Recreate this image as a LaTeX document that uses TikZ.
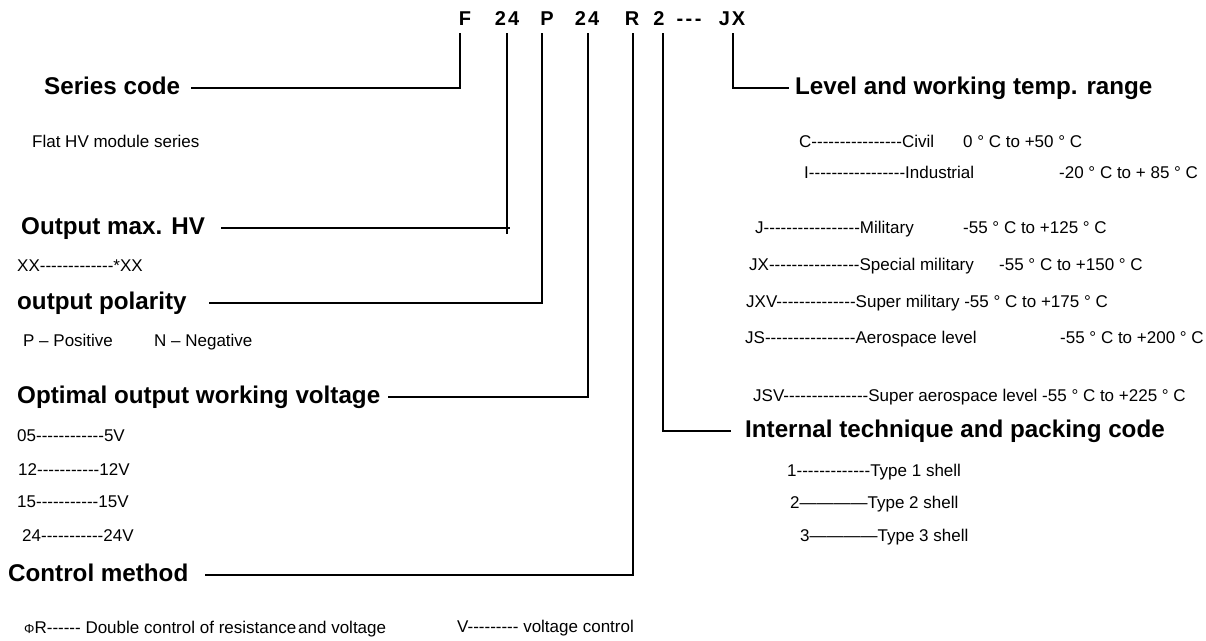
\documentclass[tikz,border=0pt]{standalone}
\usepackage{fontspec}
\newfontfamily\ars{Liberation Sans}
\tikzset{
  codetxt/.style={font=\ars\bfseries\fontsize{20}{24}\selectfont, inner sep=0pt, anchor=base},
  head/.style={font=\ars\bfseries\fontsize{24.2}{28}\selectfont, inner sep=0pt, anchor=west, text height=17pt, text depth=5pt},
  small/.style={font=\ars\fontsize{17}{20}\selectfont, inner sep=0pt, anchor=base west},
  conn/.style={line width=1.4pt, line cap=butt},
}
\begin{document}
\begin{tikzpicture}[x=1pt, y=-1pt]
\fill[white] (0,0) rectangle (1206,640);
\useasboundingbox (0,0) rectangle (1206,640);

% code line
\node[codetxt] (cF)   at (465,25) {F};
\node[codetxt] (c24a) at (507,25) {2\kern2pt4};
\node[codetxt] (cP)   at (547,25) {P};
\node[codetxt] (c24b) at (587,25) {2\kern2pt4};
\node[codetxt] (cR)   at (632,25) {R};
\node[codetxt] (c2)   at (659,25) {2};
\node[codetxt] (cd)   at (689,25) {-\kern2.5pt-\kern2.5pt-};
\node[codetxt] (cJX)  at (732,25) {J\kern2pt X};

% left headings
\node[head] (series)  at (44,88)  {Series code};
\node[head] (outmax)  at (21,228) {Output max. HV};
\node[head] (polar)   at (17,303) {output polarity};
\node[head] (optimal) at (17,397) {Optimal output working voltage};
\node[head] (control) at (8,575)  {Control method};

% right headings
\node[head] (level)    at (795,88)  {Level and working temp. range};
\node[head] (internal) at (745,431) {Internal technique and packing code};

% left small text
\node[small] (flat) at (32,147) {Flat HV module series};
\node[small] (xx)   at (17,271) {XX-------------*XX};
\node[small] (pos)  at (23,346) {P – Positive};
\node[small] (neg)  at (154,346) {N – Negative};
\node[small] (v05)  at (17,441) {05------------5V};
\node[small] (v12)  at (18,475) {12-----------12V};
\node[small] (v15)  at (17,507) {15-----------15V};
\node[small] (v24)  at (22,541) {24-----------24V};
\node[small] (phir) at (24,633) {{\fontsize{13}{15}\selectfont Φ}R------ Double control of resistance\hspace{2pt}and voltage};
\node[small] (vctl) at (457,632) {V--------- voltage control};

% right small text
\node[small] (civ)   at (799,147)  {C----------------Civil};
\node[small] (civt)  at (963,147)  {0 ° C to +50 ° C};
\node[small] (ind)   at (804,178)  {I-----------------Industrial};
\node[small] (indt)  at (1059,178) {-20 ° C to + 85 ° C};
\node[small] (mil)   at (755,233)  {J-----------------Military};
\node[small] (milt)  at (963,233)  {-55 ° C to +125 ° C};
\node[small] (spm)   at (749,270)  {JX----------------Special military};
\node[small] (spmt)  at (999,270)  {-55 ° C to +150 ° C};
\node[small] (sup)   at (746,307)  {JXV--------------Super military -55 ° C to +175 ° C};
\node[small] (aero)  at (745,343)  {JS----------------Aerospace level};
\node[small] (aerot) at (1060,343) {-55 ° C to +200 ° C};
\node[small] (jsv)   at (753,401)  {JSV---------------Super aerospace level -55 ° C to +225 ° C};
\node[small] (t1)    at (787,476)  {1-------------Type 1 shell};
\node[small] (t2)    at (790,508)  {2————Type 2 shell};
\node[small] (t3)    at (800,541)  {3————Type 3 shell};

% connectors
\draw[conn] ([xshift=-5pt,yshift=-8pt]cF.south) |- ([xshift=11pt]series.east);
\draw[conn] ([yshift=-8pt]c24a.south) -- ([yshift=-6pt]c24a.south |- outmax.east);
\draw[conn] ([xshift=16pt]outmax.east) -- ([xshift=3pt]c24a.south |- outmax.east);
\draw[conn] ([xshift=-5pt,yshift=-8pt]cP.south) |- ([xshift=22pt]polar.east);
\draw[conn] ([xshift=1pt,yshift=-8pt]c24b.south) |- ([xshift=8pt]optimal.east);
\draw[conn] ([xshift=1pt,yshift=-8pt]cR.south) |- ([xshift=16pt]control.east);
\draw[conn] ([xshift=4pt,yshift=-8pt]c2.south) |- ([xshift=-14pt]internal.west);
\draw[conn] ([xshift=1pt,yshift=-8pt]cJX.south) |- ([xshift=-6pt]level.west);
\end{tikzpicture}
\end{document}
